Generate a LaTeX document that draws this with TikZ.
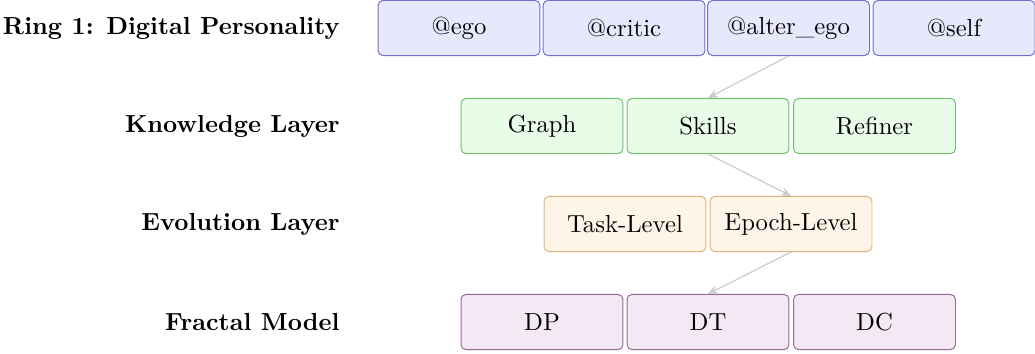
\documentclass[tikz,border=0pt]{standalone}
\usetikzlibrary{arrows.meta}
\definecolor{ringfill}{RGB}{232,232,252}
\definecolor{ringdraw}{RGB}{112,112,208}
\definecolor{knowfill}{RGB}{232,252,232}
\definecolor{knowdraw}{RGB}{112,192,112}
\definecolor{evofill}{RGB}{255,244,232}
\definecolor{evodraw}{RGB}{228,176,120}
\definecolor{fracfill}{RGB}{243,232,243}
\definecolor{fracdraw}{RGB}{150,104,150}
\tikzset{
  box/.style={rectangle, rounded corners=2pt, line width=0.4pt,
    minimum width=65.6pt, minimum height=22.3pt, inner sep=2pt, font=\normalsize},
  ringbox/.style={box, fill=ringfill, draw=ringdraw},
  knowbox/.style={box, fill=knowfill, draw=knowdraw},
  evobox/.style={box, fill=evofill, draw=evodraw},
  fracbox/.style={box, fill=fracfill, draw=fracdraw},
  rowlabel/.style={anchor=east, font=\bfseries, inner sep=0pt},
  link/.style={draw=gray!40, line width=0.5pt, -{Stealth[length=4pt,width=3.5pt]}}
}
\begin{document}
\begin{tikzpicture}[x=0.405pt, y=-0.405pt]
\useasboundingbox (0,0) rectangle (1035,354);
% labels
\node[rowlabel] (l1) at (340,28) {Ring 1: Digital Personality};
\node[rowlabel] (l2) at (340,126) {Knowledge Layer};
\node[rowlabel] (l3) at (340,224) {Evolution Layer};
\node[rowlabel] (l4) at (340,322) {Fractal Model};
% ring 1
\node[ringbox] (ego) at (459,28) {@ego};
\node[ringbox] (critic) at (624,28) {@critic};
\node[ringbox] (alter) at (788.5,28) {@alter\_ego};
\node[ringbox] (self) at (954,28) {@self};
% knowledge
\node[knowbox] (graph) at (542,126) {Graph};
\node[knowbox] (skills) at (708,126) {Skills};
\node[knowbox] (refiner) at (874.5,126) {Refiner};
% evolution
\node[evobox] (task) at (625,224) {Task-Level};
\node[evobox] (epoch) at (791,224) {Epoch-Level};
% fractal
\node[fracbox] (dp) at (542,322) {DP};
\node[fracbox] (dt) at (708,322) {DT};
\node[fracbox] (dc) at (874.5,322) {DC};
% links
\draw[link] (alter.south) -- (skills.north);
\draw[link] (skills.south) -- (epoch.north);
\draw[link] (epoch.south) -- (dt.north);
\end{tikzpicture}
\end{document}
